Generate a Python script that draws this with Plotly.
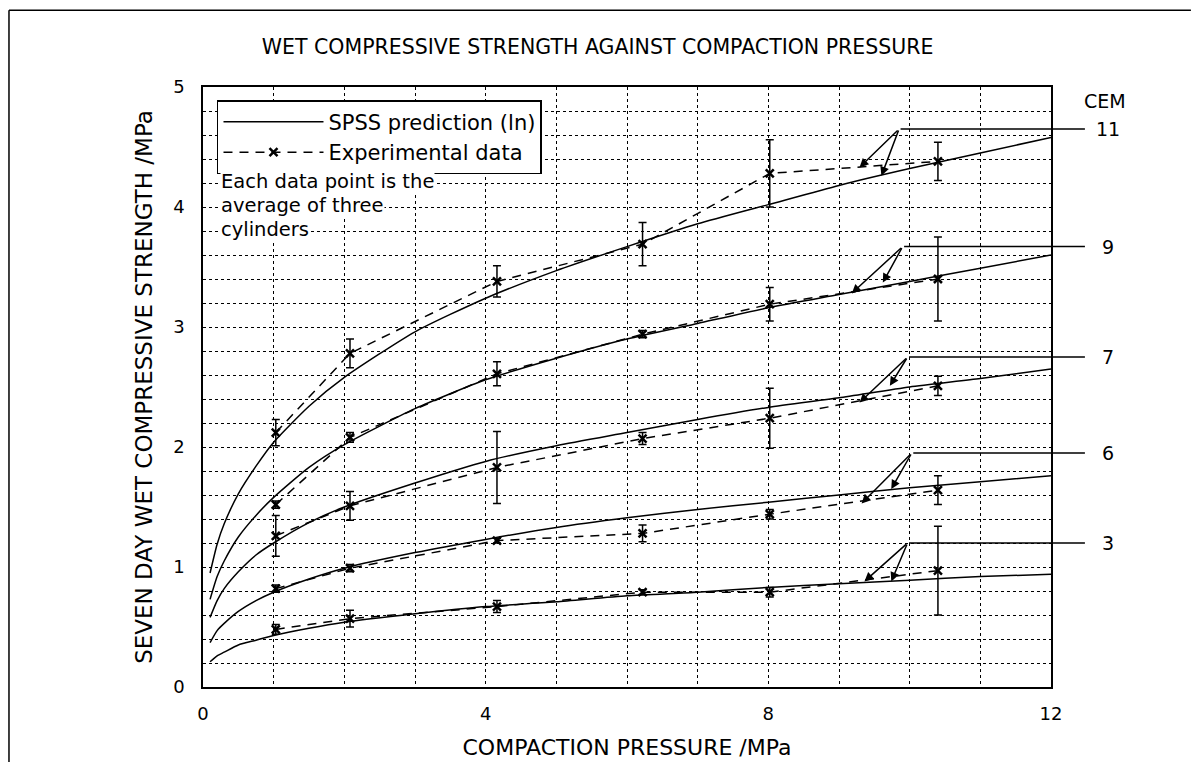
import plotly.graph_objects as go

# ---------------- data ----------------
cem_levels = ["11", "9", "7", "6", "3"]

# compaction pressure of experimental points (MPa)
exp_pressure = [1.03, 2.08, 4.16, 6.22, 8.02, 10.4]

exp_strength = {
    "11": [2.12, 2.78, 3.38, 3.69, 4.28, 4.38],
    "9":  [1.52, 2.08, 2.61, 2.94, 3.19, 3.40],
    "7":  [1.26, 1.51, 1.83, 2.07, 2.24, 2.51],
    "6":  [0.82, 0.99, 1.22, 1.28, 1.44, 1.64],
    "3":  [0.48, 0.57, 0.67, 0.79, 0.79, 0.97],
}
exp_error = {
    "11": [0.11, 0.12, 0.13, 0.18, 0.28, 0.16],
    "9":  [0.03, 0.04, 0.10, 0.03, 0.14, 0.35],
    "7":  [0.17, 0.12, 0.30, 0.05, 0.25, 0.08],
    "6":  [0.03, 0.03, 0.02, 0.07, 0.04, 0.12],
    "3":  [0.04, 0.07, 0.05, 0.02, 0.04, 0.37],
}

# SPSS prediction curves
pred_pressure = [0.1, 0.2, 0.3, 0.5, 0.75, 1, 1.5, 2, 3, 4, 5, 6, 7, 8, 9, 10, 11, 12]
pred_strength = {
    "11": [0.95, 1.19, 1.36, 1.61, 1.84, 2.04, 2.34, 2.58, 2.96, 3.24, 3.47, 3.67, 3.86, 4.02, 4.18, 4.32, 4.45, 4.58],
    "9":  [0.73, 0.92, 1.05, 1.25, 1.43, 1.58, 1.83, 2.02, 2.32, 2.56, 2.74, 2.90, 3.03, 3.16, 3.27, 3.38, 3.49, 3.60],
    "7":  [0.58, 0.72, 0.82, 0.96, 1.10, 1.20, 1.37, 1.50, 1.70, 1.88, 2.01, 2.12, 2.23, 2.33, 2.41, 2.50, 2.57, 2.65],
    "6":  [0.37, 0.47, 0.53, 0.63, 0.72, 0.79, 0.90, 0.99, 1.12, 1.23, 1.33, 1.41, 1.48, 1.54, 1.60, 1.66, 1.71, 1.76],
    "3":  [0.21, 0.26, 0.29, 0.35, 0.39, 0.43, 0.49, 0.54, 0.61, 0.67, 0.71, 0.76, 0.79, 0.83, 0.86, 0.89, 0.92, 0.94],
}

# CEM label leader lines: label height, start of leader, arrow targets
label_y = {"11": 4.65, "9": 3.67, "7": 2.75, "6": 1.95, "3": 1.20}
leader_x0 = {"11": 9.85, "9": 9.90, "7": 9.97, "6": 10.03, "3": 9.97}
arrow_targets = {
    "11": [(9.29, 4.33), (9.60, 4.26)],
    "9":  [(9.18, 3.28), (9.62, 3.37)],
    "7":  [(9.29, 2.37), (9.72, 2.51)],
    "6":  [(9.32, 1.53), (9.74, 1.65)],
    "3":  [(9.36, 0.88), (9.74, 0.88)],
}
leader_x1 = 12.48

x_ticks = [0, 4, 8, 12]
y_ticks = [0, 1, 2, 3, 4, 5]

FONT = "DejaVu Sans"

fig = go.Figure()

for i, c in enumerate(cem_levels):
    fig.add_trace(go.Scatter(
        x=pred_pressure, y=pred_strength[c], mode="lines",
        line=dict(color="black", width=1.5, shape="spline", smoothing=0.6),
        name="SPSS prediction (ln)", legendgroup="pred", showlegend=(i == 0),
    ))
for i, c in enumerate(cem_levels):
    fig.add_trace(go.Scatter(
        x=exp_pressure, y=exp_strength[c], mode="lines+markers",
        line=dict(color="black", width=1.5, dash="9px,7px"),
        marker=dict(symbol="x-thin", size=8, color="black",
                    line=dict(color="black", width=2.5)),
        error_y=dict(type="data", array=exp_error[c], visible=True,
                     color="black", thickness=1.5, width=4),
        name="Experimental data", legendgroup="exp", showlegend=(i == 0),
    ))

annotations = []
for c in cem_levels:
    yl = label_y[c]
    # horizontal leader line
    annotations.append(dict(
        x=leader_x1, y=yl, xref="x", yref="y",
        ax=leader_x0[c], ay=yl, axref="x", ayref="y",
        text="", showarrow=True, arrowhead=0, arrowwidth=1.5,
        arrowcolor="black", standoff=0, startstandoff=0,
    ))
    for (tx, ty) in arrow_targets[c]:
        annotations.append(dict(
            x=tx, y=ty, xref="x", yref="y",
            ax=leader_x0[c], ay=yl, axref="x", ayref="y",
            text="", showarrow=True, arrowhead=2, arrowsize=1.2,
            arrowwidth=1.5, arrowcolor="black", standoff=0,
        ))
    annotations.append(dict(
        x=1.067, y=yl, xref="paper", yref="y", text=c, showarrow=False,
        xanchor="center", yanchor="middle",
        font=dict(family=FONT, size=19, color="black"),
    ))
annotations.append(dict(
    x=1.064, y=4.88, xref="paper", yref="y", text="CEM", showarrow=False,
    xanchor="center", yanchor="middle",
    font=dict(family=FONT, size=19, color="black"),
))

note_lines = ["Each data point is the", "average of three", "cylinders"]
note_y = [0.842, 0.802, 0.762]
for t, yy in zip(note_lines, note_y):
    annotations.append(dict(
        x=0.02, y=yy, xref="paper", yref="paper", text=t, showarrow=False,
        xanchor="left", yanchor="middle", bgcolor="white", borderpad=0,
        font=dict(family=FONT, size=19.5, color="black"),
    ))

# outer frame (top and left edges of the page), kept inside the figure
shapes = [
    dict(type="line", xref="paper", yref="paper", x0=-0.2288, x1=1.165,
         y0=1.128, y1=1.128, line=dict(color="black", width=1.5)),
    dict(type="line", xref="paper", yref="paper", x0=-0.2288, x1=-0.2288,
         y0=1.128, y1=-0.125, line=dict(color="black", width=1.5)),
]

grid_style = dict(gridcolor="black", gridwidth=1, griddash="dot")

fig.update_layout(
    width=1184, height=755,
    margin=dict(l=195, r=141, t=79, b=76, autoexpand=False),
    paper_bgcolor="white", plot_bgcolor="white",
    font=dict(family=FONT, color="black", size=18),
    title=dict(text="WET COMPRESSIVE STRENGTH AGAINST COMPACTION PRESSURE",
               x=0.498, xref="container", xanchor="center",
               y=0.948, yref="container", yanchor="middle",
               font=dict(family=FONT, size=20.5, color="black")),
    xaxis=dict(range=[0, 12], tickvals=x_ticks, showgrid=True, **grid_style,
               minor=dict(dtick=1, showgrid=True, **grid_style),
               showline=True, mirror=True, linecolor="black", linewidth=1.5,
               zeroline=False, ticks="", ticklabelstandoff=10, automargin=False,
               tickfont=dict(family=FONT, size=18),
               title=dict(text="COMPACTION PRESSURE /MPa", standoff=16,
                          font=dict(family=FONT, size=22))),
    yaxis=dict(range=[0, 5], tickvals=y_ticks, showgrid=True, **grid_style,
               minor=dict(dtick=0.2, showgrid=True, **grid_style),
               showline=True, mirror=True, linecolor="black", linewidth=1.5,
               zeroline=False, ticks="", ticklabelstandoff=13, automargin=False,
               tickfont=dict(family=FONT, size=18),
               title=dict(text="SEVEN DAY WET COMPRESSIVE STRENGTH /MPa", standoff=14,
                          font=dict(family=FONT, size=23))),
    legend=dict(x=0.0165, y=0.978, xanchor="left", yanchor="top",
                bgcolor="white", bordercolor="black", borderwidth=1.5,
                font=dict(family=FONT, size=21), itemwidth=100,
                tracegroupgap=0),
    annotations=annotations,
    shapes=shapes,
)

fig.write_html("out.html")
